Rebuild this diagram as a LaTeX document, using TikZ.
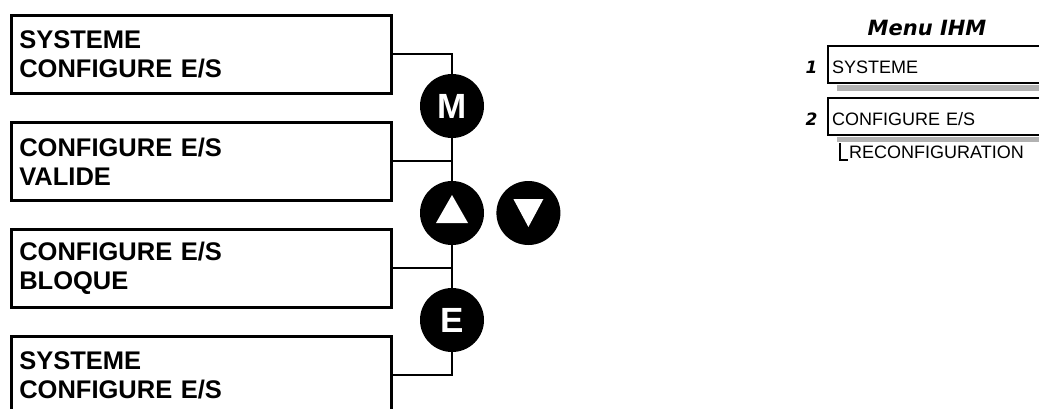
\documentclass[tikz,border=0pt]{standalone}
\usepackage{fontspec}
\setmainfont{Liberation Sans}
\newfontfamily\ihmtitlefont{DejaVu Sans}
\usepackage{xcolor}
\usepackage{tikz}
\usetikzlibrary{positioning, calc}
\definecolor{IHMInk}{RGB}{0, 0, 0}
\definecolor{IHMShadow}{RGB}{178, 178, 178}

\tikzset{
  screenbox/.style={draw=IHMInk, line width=2.6pt, anchor=north west,
    minimum width=380pt, minimum height=78pt, text width=364pt,
    inner xsep=8pt, inner ysep=0pt, align=left,
    font=\fontsize{25.5}{29}\selectfont\bfseries},
  keyball/.style={circle, fill=IHMInk, minimum size=64pt, inner sep=0pt,
    text=white, font=\fontsize{35}{35}\selectfont\bfseries},
  keylink/.style={draw=IHMInk, line width=2pt},
  menubox/.style={draw=IHMInk, line width=2pt, anchor=north west,
    minimum width=240pt, text width=232pt, inner xsep=4pt, inner ysep=0pt,
    text height=27pt, text depth=10pt, align=left,
    font=\fontsize{18}{18}\selectfont},
  menunum/.style={font=\ihmtitlefont\fontsize{17}{17}\selectfont\bfseries\itshape},
}

\begin{document}
\begin{tikzpicture}[x=1pt, y=-1pt]
  \useasboundingbox (0,0) rectangle (1039,408);
  \clip (0,0) rectangle (1039,408);

  % ecrans
  \node[screenbox] (ecranA) at (10,14) {SYSTEME\\CONFIGURE E/S};
  \node[screenbox] (ecranB) at (10,121) {CONFIGURE E/S\\VALIDE};
  \node[screenbox] (ecranC) at (10,228) {CONFIGURE E/S\\BLOQUE};
  \node[screenbox] (ecranD) at (10,335) {SYSTEME\\CONFIGURE E/S};

  % touches
  \node[keyball] (toucheM) at (452,106) {M};
  \node[keyball] (toucheHaut) at (452,213) {};
  \node[keyball, right=12pt of toucheHaut] (toucheBas) {};
  \node[keyball] (toucheE) at (452,320) {E};
  \fill[white] ($(toucheHaut)+(0,-18)$) -- ($(toucheHaut)+(16,10)$)
    -- ($(toucheHaut)+(-16,10)$) -- cycle;
  \fill[white] ($(toucheBas)+(-15,-14)$) -- ($(toucheBas)+(15,-14)$)
    -- ($(toucheBas)+(0,14)$) -- cycle;

  % liaisons
  \draw[keylink] (ecranA.east) -| (toucheM.north);
  \draw[keylink] (toucheM.south) -- (toucheHaut.north);
  \draw[keylink] (ecranB.east) -- (ecranB.east -| toucheM.south);
  \draw[keylink] (toucheHaut.south) -- (toucheE.north);
  \draw[keylink] (ecranC.east) -- (ecranC.east -| toucheE.north);
  \draw[keylink] (toucheE.south) |- (ecranD.east);

  % menu IHM
  \node[font=\ihmtitlefont\fontsize{21}{21}\selectfont\bfseries\itshape,
    anchor=base] (titreIHM) at (927,35) {Menu IHM};
  \node[menubox] (menuA) at (827,45) {SYSTEME};
  \node[menubox] (menuB) at (827,97) {CONFIGURE E/S};
  \node[menunum, base left=6pt of menuA.base west] (numA) {1};
  \node[menunum, base left=6pt of menuB.base west] (numB) {2};
  \fill[IHMShadow] ($(menuA.south west)+(10,1)$) rectangle ($(menuA.south east)+(0,7)$);
  \fill[IHMShadow] ($(menuB.south west)+(10,1)$) rectangle ($(menuB.south east)+(0,6)$);

  % sous-menu
  \node[font=\fontsize{18}{18}\selectfont, inner sep=0pt, anchor=base west]
    (reconfig) at (849,158) {RECONFIGURATION};
  \coordinate (sousB) at ($(menuB.south west)+(13,7)$);
  \draw[keylink, line width=1.5pt] (sousB) |- ($(reconfig.base west)+(-1,2)$);
\end{tikzpicture}
\end{document}
